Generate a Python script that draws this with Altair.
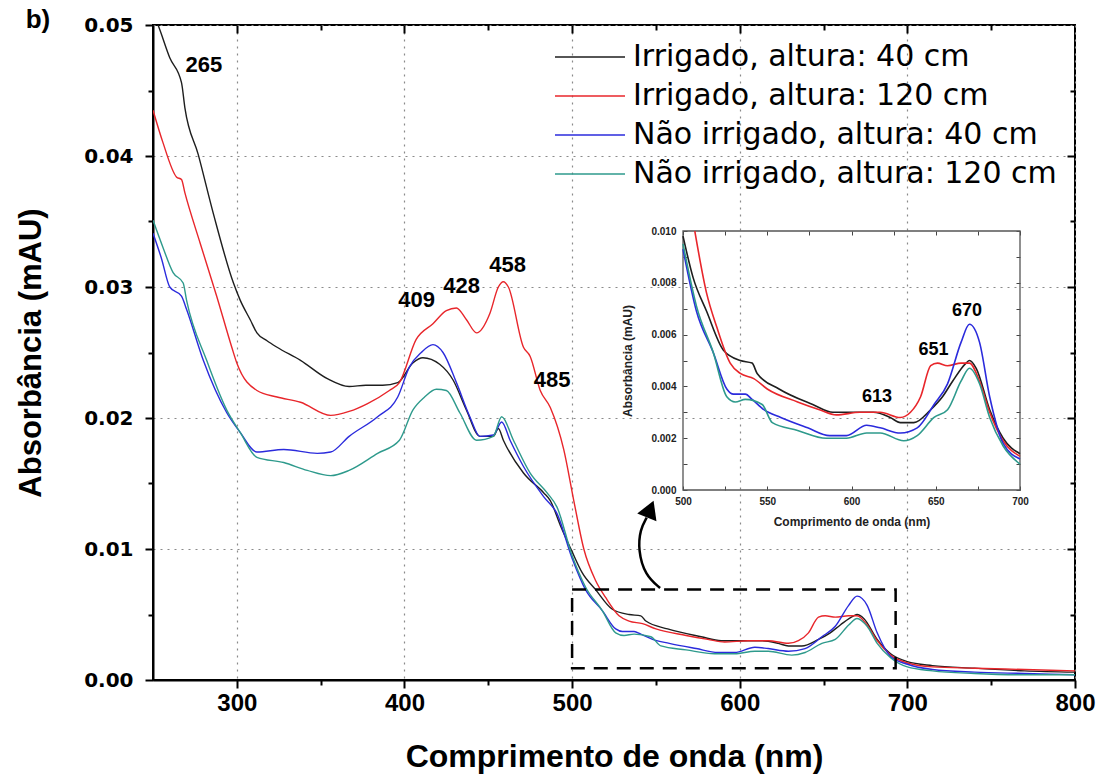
import altair as alt
import pandas as pd

# ---------------- data ----------------
series_names = [
    "Irrigado, altura: 40 cm",
    "Irrigado, altura: 120 cm",
    "Não irrigado, altura: 40 cm",
    "Não irrigado, altura: 120 cm",
]
series_colors = ["#1e1e1e", "#e8262b", "#2b2bdc", "#2e9a8c"]

irr40_wl = [250, 253, 260, 267, 269, 277, 286, 298, 302, 308, 312, 318, 324, 338, 354, 367, 377, 387, 396,
            405, 411, 421, 429, 437, 445, 453, 456, 459, 471, 483, 487, 493, 500, 506, 514, 524, 534, 541,
            544, 557, 577, 589, 613, 623, 629, 637, 647, 654, 660, 668, 670, 674, 682, 690, 700, 715, 740,
            770, 800]
irr40_abs = [0.0509, 0.0500, 0.0475, 0.0456, 0.0437, 0.0401, 0.0356, 0.0303, 0.0290, 0.0275, 0.0265,
             0.0259, 0.0254, 0.0244, 0.0230, 0.0224, 0.0225, 0.0225, 0.0227, 0.0242, 0.0246, 0.0241,
             0.0229, 0.0206, 0.0186, 0.0186, 0.0192, 0.0183, 0.0158, 0.0143, 0.0137, 0.0118, 0.0098,
             0.0082, 0.0069, 0.0054, 0.0050, 0.0049, 0.0045, 0.0039, 0.0033, 0.0030, 0.0030, 0.0028,
             0.0026, 0.0026, 0.0031, 0.0036, 0.0042, 0.0049, 0.0050, 0.0047, 0.0031, 0.0020, 0.0014,
             0.0011, 0.0009, 0.0007, 0.0006]

irr120_wl = [250, 256, 264, 267, 269, 278, 288, 297, 300, 312, 324, 338, 356, 367, 378, 391, 397, 407,
             417, 425, 431, 437, 443, 451, 456, 459, 462, 471, 475, 481, 487, 495, 501, 507, 514, 520,
             528, 534, 542, 550, 568, 581, 591, 605, 617, 629, 635, 641, 647, 651, 657, 665, 670, 676,
             682, 690, 700, 715, 740, 770, 800]
irr120_abs = [0.0435, 0.0410, 0.0384, 0.0382, 0.0372, 0.0334, 0.0293, 0.0254, 0.0242, 0.0221, 0.0216,
              0.0212, 0.0202, 0.0205, 0.0211, 0.0221, 0.0227, 0.0260, 0.0272, 0.0282, 0.0284, 0.0275,
              0.0265, 0.0280, 0.0300, 0.0304, 0.0300, 0.0254, 0.0247, 0.0221, 0.0208, 0.0176, 0.0137,
              0.0100, 0.0076, 0.0063, 0.0049, 0.0045, 0.0043, 0.0039, 0.0034, 0.0031, 0.0029, 0.0030,
              0.0030, 0.0028, 0.0030, 0.0036, 0.0048, 0.0049, 0.0048, 0.0049, 0.0049, 0.0042, 0.0030,
              0.0019, 0.0013, 0.0010, 0.0009, 0.0008, 0.0007]

nirr40_wl = [250, 255, 260, 267, 270, 280, 294, 302, 312, 328, 348, 356, 367, 384, 396, 403, 410, 417,
             423, 431, 439, 445, 453, 458, 463, 471, 483, 491, 500, 508, 518, 526, 530, 537, 541, 548,
             558, 574, 587, 597, 609, 617, 629, 639, 649, 657, 665, 670, 676, 682, 690, 700, 715, 740,
             770, 800]
nirr40_abs = [0.0341, 0.0322, 0.0300, 0.0293, 0.0283, 0.0244, 0.0204, 0.0189, 0.0174, 0.0176, 0.0173,
              0.0174, 0.0186, 0.0201, 0.0216, 0.0239, 0.0250, 0.0256, 0.0250, 0.0227, 0.0201, 0.0186,
              0.0187, 0.0197, 0.0183, 0.0163, 0.0140, 0.0127, 0.0093, 0.0069, 0.0053, 0.0039, 0.0037,
              0.0037, 0.0035, 0.0031, 0.0028, 0.0024, 0.0021, 0.0021, 0.0025, 0.0024, 0.0022, 0.0024,
              0.0033, 0.0041, 0.0057, 0.0064, 0.0057, 0.0036, 0.0018, 0.0012, 0.0008, 0.0006, 0.0005,
              0.0004]

nirr120_wl = [250, 256, 262, 268, 270, 282, 294, 302, 312, 328, 342, 356, 367, 384, 397, 405, 412, 419,
              425, 433, 443, 453, 458, 465, 475, 485, 491, 500, 508, 518, 526, 531, 537, 547, 553, 568,
              585, 597, 609, 617, 631, 639, 649, 657, 665, 670, 676, 682, 690, 700, 715, 740, 770, 800]
nirr120_abs = [0.0351, 0.0330, 0.0311, 0.0303, 0.0290, 0.0244, 0.0206, 0.0189, 0.0170, 0.0166, 0.0160,
               0.0156, 0.0160, 0.0173, 0.0183, 0.0206, 0.0216, 0.0222, 0.0221, 0.0204, 0.0183, 0.0186,
               0.0201, 0.0183, 0.0158, 0.0143, 0.0132, 0.0095, 0.0071, 0.0053, 0.0036, 0.0034, 0.0035,
               0.0033, 0.0026, 0.0023, 0.0020, 0.0020, 0.0022, 0.0022, 0.0019, 0.0021, 0.0028, 0.0031,
               0.0042, 0.0047, 0.0041, 0.0028, 0.0017, 0.0010, 0.0007, 0.0005, 0.0004, 0.0004]

x_ticks = [300, 350, 400, 450, 500, 550, 600, 650, 700, 750, 800]
x_major = [300, 400, 500, 600, 700]
x_minor = [350, 450, 550, 650, 750]
y_ticks = [0.0, 0.005, 0.01, 0.015, 0.02, 0.025, 0.03, 0.035, 0.04, 0.045, 0.05]
y_major = [0.01, 0.02, 0.03, 0.04]
y_minor = [0.005, 0.015, 0.025, 0.035, 0.045]
inset_x_ticks = [500, 525, 550, 575, 600, 625, 650, 675, 700]
inset_y_ticks = [0.0, 0.001, 0.002, 0.003, 0.004, 0.005, 0.006, 0.007, 0.008, 0.009, 0.010]

peak_main_labels = ["265", "409", "428", "458", "485"]
peak_main_x = [280.4, 407.2, 434.1, 461.5, 488.1]
peak_main_y = [0.04695, 0.0290, 0.0301, 0.03168, 0.0229]
peak_inset_labels = ["613", "651", "670"]
peak_inset_x = [615.1, 648.7, 668.5]
peak_inset_y = [0.00361, 0.00539, 0.00691]

box_x = [500]
box_x2 = [693]
box_y = [0.0009]
box_y2 = [0.0069]
arrow_x = [552.5, 543.5, 539.4, 540.6, 544.5]
arrow_y = [0.00702, 0.0080, 0.0099, 0.0115, 0.0124]
arrow_tip_x = [546.6]
arrow_tip_y = [0.01305]

# ---------------- tables ----------------
rows = []
for name, xs, ys in zip(series_names,
                        [irr40_wl, irr120_wl, nirr40_wl, nirr120_wl],
                        [irr40_abs, irr120_abs, nirr40_abs, nirr120_abs]):
    for i, (xv, yv) in enumerate(zip(xs, ys)):
        rows.append({"serie": name, "wl": xv, "abs": yv, "i": i})
df = pd.DataFrame(rows)
df_inset = df[(df.wl >= 500) & (df.wl <= 700) & (df["abs"] <= 0.0100001)]

legend_df = pd.DataFrame({"serie": series_names, "row": list(range(len(series_names)))})
peaks_main = pd.DataFrame({"t": peak_main_labels, "wl": peak_main_x, "abs": peak_main_y})
peaks_inset = pd.DataFrame({"t": peak_inset_labels, "wl": peak_inset_x, "abs": peak_inset_y})
box = pd.DataFrame({"x": box_x, "x2": box_x2, "y": box_y, "y2": box_y2})
arrow = pd.DataFrame({"wl": arrow_x, "abs": arrow_y, "i": list(range(len(arrow_x)))})
arrow_tip = pd.DataFrame({"wl": arrow_tip_x, "abs": arrow_tip_y})
frame_inset = pd.DataFrame({"x": [500], "x2": [700], "y": [0.0], "y2": [0.010]})

W, H = 922, 655
SANS = "Liberation Sans"
WIDE = "DejaVu Sans"

main_x = alt.Scale(domain=[250, 800], nice=False, zero=False)
main_y = alt.Scale(domain=[0, 0.05], nice=False, zero=False)
inset_x = alt.Scale(domain=[500, 700], range=[530, 867], nice=False, zero=False)
inset_y = alt.Scale(domain=[0, 0.010], range=[465, 206], nice=False, zero=False)
color_scale = alt.Scale(domain=series_names, range=series_colors)

is_major_x = "datum.value % 100 === 0"
is_major_y = "abs(datum.value*100 - round(datum.value*100)) < 1e-6"

bottom_axis = alt.Axis(
    orient="bottom", values=x_ticks, format="d",
    labelExpr=f"({is_major_x}) ? datum.label : ''", labelOverlap=False, labelFlush=False,
    labelFont=SANS, labelFontSize=24, labelFontWeight="bold", labelColor="black", labelPadding=3,
    tickSize={"condition": {"test": is_major_x, "value": 8}, "value": 5},
    tickWidth=2, tickColor="black", domain=True, domainColor="black", domainWidth=2,
    grid=True, gridColor="#8a8a8a", gridDash=[2, 5], gridWidth=1.2,
    gridOpacity={"condition": {"test": is_major_x, "value": 1}, "value": 0},
    title="Comprimento de onda (nm)", titleFont=SANS, titleFontSize=32, titleFontWeight="bold",
    titleColor="black", titlePadding=26,
)
left_axis = alt.Axis(
    orient="left", values=y_ticks, format=".2f",
    labelExpr=f"({is_major_y}) ? datum.label : ''", labelOverlap=False, labelFlush=False,
    labelFont=WIDE, labelFontSize=20, labelFontWeight="bold", labelColor="black", labelPadding=12,
    tickSize={"condition": {"test": is_major_y, "value": 8}, "value": 5},
    tickWidth=2, tickColor="black", domain=True, domainColor="black", domainWidth=2,
    grid=True, gridColor="#8a8a8a", gridDash=[2, 5], gridWidth=1.2,
    gridOpacity={"condition": {"test": is_major_y, "value": 1}, "value": 0},
    title="Absorbância (mAU)", titleFont=SANS, titleFontSize=31, titleFontWeight="bold",
    titleColor="black", titlePadding=36,
)


def mirror_axis(orient, values, size):
    return alt.Axis(orient=orient, values=values, labels=False, ticks=True, tickSize=size,
                    offset=-size, tickWidth=2, tickColor="black", domain=False, grid=False,
                    title=None)


main_lines = alt.Chart(df).mark_line(strokeWidth=1.4, clip=True, interpolate="monotone").encode(
    x=alt.X("wl:Q", scale=main_x, axis=bottom_axis),
    y=alt.Y("abs:Q", scale=main_y, axis=left_axis),
    color=alt.Color("serie:N", scale=color_scale, legend=None), detail="serie:N", order="i:Q",
)
mirror_major = alt.Chart(df).mark_point(opacity=0).encode(
    x=alt.X("wl:Q", scale=main_x, axis=mirror_axis("top", x_major, 8)),
    y=alt.Y("abs:Q", scale=main_y, axis=mirror_axis("right", y_major, 8)),
)
mirror_minor = alt.Chart(df).mark_point(opacity=0).encode(
    x=alt.X("wl:Q", scale=main_x, axis=mirror_axis("top", x_minor, 5)),
    y=alt.Y("abs:Q", scale=main_y, axis=mirror_axis("right", y_minor, 5)),
)
box_layer = alt.Chart(box).mark_rect(fillOpacity=0, stroke="black", strokeWidth=2.5,
                                     strokeDash=[14, 9]).encode(
    x=alt.X("x:Q", scale=main_x, axis=None), x2="x2:Q",
    y=alt.Y("y:Q", scale=main_y, axis=None), y2="y2:Q",
)
arrow_line = alt.Chart(arrow).mark_line(interpolate="basis", strokeWidth=2.5, color="black").encode(
    x=alt.X("wl:Q", scale=main_x, axis=None),
    y=alt.Y("abs:Q", scale=main_y, axis=None), order="i:Q",
)
arrow_head = alt.Chart(arrow_tip).mark_point(shape="triangle-up", filled=True, size=430, angle=22,
                                             color="black", opacity=1).encode(
    x=alt.X("wl:Q", scale=main_x, axis=None),
    y=alt.Y("abs:Q", scale=main_y, axis=None),
)
peak_main_text = alt.Chart(peaks_main).mark_text(font=SANS, fontSize=22, fontWeight="bold",
                                                 color="black", align="center",
                                                 baseline="middle").encode(
    x=alt.X("wl:Q", scale=main_x, axis=None),
    y=alt.Y("abs:Q", scale=main_y, axis=None), text="t:N",
)
panel_label = alt.Chart(pd.DataFrame({"t": ["b)"]})).mark_text(
    font=SANS, fontSize=26, fontWeight="bold", color="black", align="center",
    baseline="middle").encode(text="t:N", x=alt.value(-115), y=alt.value(-5))

main_group = alt.layer(
    main_lines, mirror_major, mirror_minor, box_layer, arrow_line, arrow_head,
    peak_main_text, panel_label,
).resolve_axis(x="independent", y="independent")

# ---------------- inset ----------------
inset_bottom = alt.Axis(
    orient="bottom", offset=-194, values=inset_x_ticks, format="d",
    labelExpr="datum.value % 50 === 0 ? datum.label : ''", labelOverlap=False, labelFlush=False,
    labelFont=SANS, labelFontSize=10, labelFontWeight="bold", labelColor="#222", labelPadding=6,
    tickSize=4, tickWidth=1, tickColor="#444", domain=False, grid=False,
    title="Comprimento de onda (nm)", titleFont=SANS, titleFontSize=12, titleFontWeight="bold",
    titleColor="#222", titlePadding=10,
)
inset_left = alt.Axis(
    orient="left", offset=-534, values=inset_y_ticks, format=".3f",
    labelExpr="round(datum.value*1000) % 2 === 0 ? datum.label : ''", labelOverlap=False,
    labelFlush=False, labelFont=SANS, labelFontSize=10, labelFontWeight="bold", labelColor="#222",
    labelPadding=7, tickSize=4, tickWidth=1, tickColor="#444", domain=False, grid=False,
    title="Absorbância (mAU)", titleFont=SANS, titleFontSize=12, titleFontWeight="bold",
    titleColor="#222", titlePadding=16,
)
inset_top = alt.Axis(orient="top", offset=-210, values=inset_x_ticks, labels=False, tickSize=4,
                     tickWidth=1, tickColor="#444", domain=False, grid=False, title=None)
inset_right = alt.Axis(orient="right", offset=-59, values=inset_y_ticks, labels=False, tickSize=4,
                       tickWidth=1, tickColor="#444", domain=False, grid=False, title=None)

inset_frame = alt.Chart(frame_inset).mark_rect(fillOpacity=0, stroke="#555", strokeWidth=1.3).encode(
    x=alt.X("x:Q", scale=inset_x, axis=inset_top), x2="x2:Q",
    y=alt.Y("y:Q", scale=inset_y, axis=inset_right), y2="y2:Q",
)
inset_lines = alt.Chart(df_inset).mark_line(strokeWidth=1.6, interpolate="monotone").encode(
    x=alt.X("wl:Q", scale=inset_x, axis=inset_bottom),
    y=alt.Y("abs:Q", scale=inset_y, axis=inset_left),
    color=alt.Color("serie:N", scale=color_scale, legend=None), detail="serie:N", order="i:Q",
)
peak_inset_text = alt.Chart(peaks_inset).mark_text(font=SANS, fontSize=18, fontWeight="bold",
                                                   color="black", align="center",
                                                   baseline="middle").encode(
    x=alt.X("wl:Q", scale=inset_x, axis=None),
    y=alt.Y("abs:Q", scale=inset_y, axis=None), text="t:N",
)
inset_group = alt.layer(inset_frame, inset_lines, peak_inset_text).resolve_axis(
    x="independent", y="independent")

# ---------------- legend (drawn as marks) ----------------
legend_y = alt.Scale(domain=[0, 3], range=[32, 149], nice=False, zero=False)
legend_sym = alt.Chart(legend_df).mark_rule(strokeWidth=1.5).encode(
    x=alt.value(402), x2=alt.value(472),
    y=alt.Y("row:Q", scale=legend_y, axis=None),
    color=alt.Color("serie:N", scale=color_scale, legend=None),
)
legend_txt = alt.Chart(legend_df).mark_text(font=WIDE, fontSize=30, color="black", align="left",
                                            baseline="middle").encode(
    x=alt.value(480),
    y=alt.Y("row:Q", scale=legend_y, axis=None),
    text="serie:N",
)
legend_group = alt.layer(legend_sym, legend_txt)

chart = alt.layer(main_group, inset_group, legend_group).resolve_scale(
    x="independent", y="independent"
).properties(
    width=W, height=H,
    padding={"left": 153, "top": 25, "right": 24, "bottom": 99},
    autosize=alt.AutoSizeParams(type="none"),
    background="white",
).configure_view(stroke="black", strokeWidth=2)

chart.save("out.html", embed_options={"renderer": "svg", "actions": False})
